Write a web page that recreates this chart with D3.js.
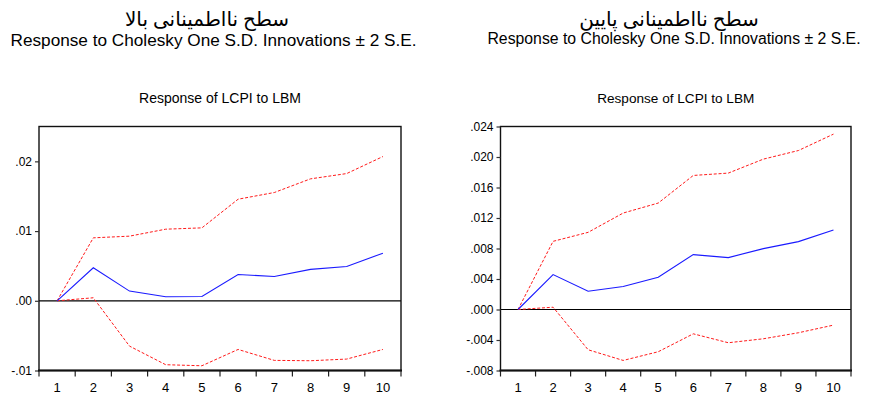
<!DOCTYPE html>
<html>
<head>
<meta charset="utf-8">
<script src="https://cdn.jsdelivr.net/npm/d3@7"></script>
<style>
  html, body { margin: 0; padding: 0; background: #fff; }
  svg { display: block; }
  .fa { font-family: "Times New Roman", "Liberation Serif", "DejaVu Sans", serif; fill: #000; }
  .lat { font-family: Arial, "Liberation Sans", sans-serif; fill: #000; }
</style>
</head>
<body>
<svg id="chart" width="869" height="394"></svg>
<script>
// Forecast horizons (periods)
const periods = [1, 2, 3, 4, 5, 6, 7, 8, 9, 10];

// High-uncertainty regime: impulse response and ±2 S.E. bands
const highResponse = [0, 0.00473, 0.00139, 0.00057, 0.00062, 0.00377, 0.00349, 0.00450, 0.00492, 0.00683];
const highUpper    = [0, 0.00903, 0.00927, 0.01027, 0.01046, 0.01457, 0.01553, 0.01749, 0.01825, 0.02069];
const highLower    = [0, 0.00043, -0.00650, -0.00917, -0.00932, -0.00698, -0.00855, -0.00860, -0.00836, -0.00698];

// Low-uncertainty regime: impulse response and ±2 S.E. bands
const lowResponse = [0, 0.00458, 0.00240, 0.00301, 0.00423, 0.00720, 0.00681, 0.00798, 0.00890, 0.01043];
const lowUpper    = [0, 0.00894, 0.01012, 0.01265, 0.01396, 0.01758, 0.01789, 0.01972, 0.02085, 0.02300];
const lowLower    = [0, 0.00030, -0.00528, -0.00668, -0.00554, -0.00319, -0.00436, -0.00384, -0.00305, -0.00205];

// Y-axis ticks and their labels
const highTicks = [-0.01, 0, 0.01, 0.02];
const highTickLabels = ["-.01", ".00", ".01", ".02"];
const lowTicks = [-0.008, -0.004, 0, 0.004, 0.008, 0.012, 0.016, 0.020, 0.024];
const lowTickLabels = ["-.008", ".000", ".004", ".008", ".012", ".016", ".020", ".024"];
lowTickLabels.splice(1, 0, "-.004");

const headings = ["سطح نااطمینانی بالا", "سطح نااطمینانی پایین"];
const subtitle = "Response to Cholesky One S.D. Innovations ± 2 S.E.";
const panelTitle = "Response of LCPI to LBM";

const panels = [
  { heading: headings[0], mid: highResponse, up: highUpper, lo: highLower,
    domain: [-0.01, 0.025], ticks: highTicks, labels: highTickLabels,
    left: 39, right: 401, top: 126.5, bottom: 370.5,
    headX: 207, headY: 26, headSize: 20, subX: 213.5, subY: 45.5, subSize: 17.2, titleSize: 14 },
  { heading: headings[1], mid: lowResponse, up: lowUpper, lo: lowLower,
    domain: [-0.008, 0.024], ticks: lowTicks, labels: lowTickLabels,
    left: 500.5, right: 851, top: 126.5, bottom: 370.5,
    headX: 669, headY: 26, headSize: 20, subX: 674, subY: 43.5, subSize: 15.8, titleSize: 13.6 }
];

const svg = d3.select("#chart");

panels.forEach(p => {
  const g = svg.append("g");
  const x = d3.scaleBand().domain(periods).range([p.left, p.right]).padding(0);
  const y = d3.scaleLinear().domain(p.domain).range([p.bottom, p.top]);
  const cx = d => x(d) + x.bandwidth() / 2;

  // Headings
  g.append("text").attr("class", "fa")
    .attr("x", p.headX).attr("y", p.headY)
    .attr("text-anchor", "middle").attr("direction", "rtl")
    .style("font-size", p.headSize + "px")
    .text(p.heading);
  g.append("text").attr("class", "lat")
    .attr("x", p.subX).attr("y", p.subY)
    .attr("text-anchor", "middle")
    .style("font-size", p.subSize + "px")
    .text(subtitle);
  g.append("text").attr("class", "lat")
    .attr("x", (p.left + p.right) / 2).attr("y", 103)
    .attr("text-anchor", "middle")
    .style("font-size", p.titleSize + "px")
    .text(panelTitle);

  // Zero reference line
  g.append("line")
    .attr("x1", p.left).attr("x2", p.right)
    .attr("y1", y(0)).attr("y2", y(0))
    .attr("stroke", "#000").attr("stroke-width", 1.2);

  // Response and confidence bands
  const line = arr => d3.line()
    .x((d, i) => cx(periods[i]))
    .y(d => y(d))(arr);

  g.append("path").attr("d", line(p.up))
    .attr("fill", "none").attr("stroke", "#ff1a1a")
    .attr("stroke-width", 1).attr("stroke-dasharray", "3,1.8");
  g.append("path").attr("d", line(p.lo))
    .attr("fill", "none").attr("stroke", "#ff1a1a")
    .attr("stroke-width", 1).attr("stroke-dasharray", "3,1.8");
  g.append("path").attr("d", line(p.mid))
    .attr("fill", "none").attr("stroke", "#1a1aff")
    .attr("stroke-width", 1.1);

  // Frame
  g.append("rect")
    .attr("x", p.left).attr("y", p.top)
    .attr("width", p.right - p.left).attr("height", p.bottom - p.top)
    .attr("fill", "none").attr("stroke", "#111").attr("stroke-width", 1.4);

  // Y axis
  const yAxis = d3.axisLeft(y)
    .tickValues(p.ticks)
    .tickFormat((d, i) => p.labels[i])
    .tickSize(4).tickPadding(3);
  const ya = g.append("g").attr("transform", `translate(${p.left},0)`).call(yAxis);
  ya.select(".domain").remove();
  ya.selectAll(".tick line").attr("stroke", "#333").attr("stroke-width", 1.2);
  ya.selectAll(".tick text").attr("class", "lat")
    .style("font-size", "12px").style("font-family", "Arial, 'Liberation Sans', sans-serif");

  // X axis: labels centred in each period, ticks on the period boundaries
  const xAxis = d3.axisBottom(x).tickSize(0).tickPadding(12);
  const xa = g.append("g").attr("transform", `translate(0,${p.bottom})`).call(xAxis);
  xa.select(".domain").remove();
  xa.selectAll(".tick text")
    .style("font-size", "13px").style("font-family", "Arial, 'Liberation Sans', sans-serif")
    .attr("fill", "#000");

  const bounds = periods.map(d => x(d)).concat([p.right]);
  g.selectAll(".xb").data(bounds).join("line")
    .attr("x1", d => d).attr("x2", d => d)
    .attr("y1", p.bottom).attr("y2", p.bottom + 6)
    .attr("stroke", "#222").attr("stroke-width", 1.2);

  g.append("line")
    .attr("x1", p.left - 1).attr("x2", p.right + 1)
    .attr("y1", p.bottom).attr("y2", p.bottom)
    .attr("stroke", "#111").attr("stroke-width", 2.2);
});
</script>
</body>
</html>
